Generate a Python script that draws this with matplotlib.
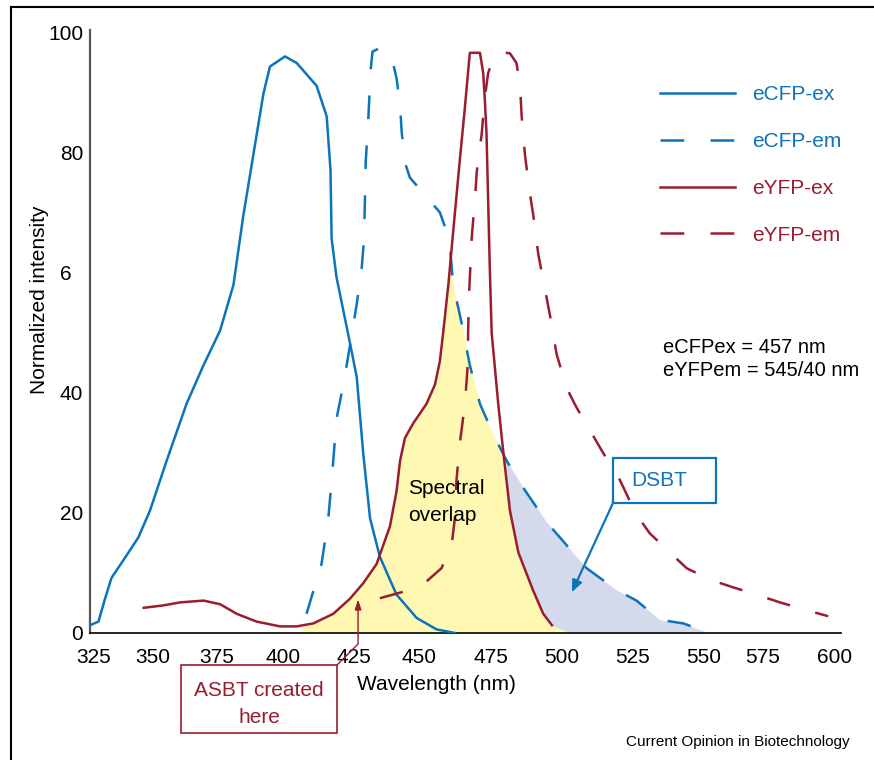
import numpy as np
import matplotlib.pyplot as plt
from matplotlib.patches import Rectangle
from matplotlib.lines import Line2D

plt.rcParams['font.family'] = ['Liberation Sans', 'DejaVu Sans']

# spectra (x = wavelength on the figure's axis, y = normalized intensity)
ecfp_ex_x = [325.0, 328.1, 330.5, 332.9, 337.2, 342.7, 347.0, 353.1, 360.4, 366.6, 372.7, 377.6,
             381.2, 384.9, 388.6, 391.0, 396.5, 400.8, 408.1, 411.8, 413.2, 413.6, 415.4, 420.3,
             422.8, 425.2, 427.7, 431.3, 437.4, 444.8, 452.1, 458.8]
ecfp_ex_y = [1.3, 1.9, 5.7, 9.2, 12.1, 15.9, 20.4, 28.7, 38.2, 44.6, 50.4, 58.0,
             69.5, 79.7, 89.9, 94.4, 96.1, 95.0, 91.2, 86.1, 77.1, 65.7, 59.3, 48.4,
             42.7, 29.9, 19.1, 12.7, 6.4, 2.5, 0.6, 0.0]

ecfp_em_x = [404.4, 406.9, 409.9, 412.4, 414.2, 415.4, 417.9, 420.3, 422.8, 424.6, 425.5, 425.8,
             426.1, 427.1, 427.9, 428.6, 431.3, 435.6, 437.4, 438.7, 439.3, 440.5, 442.3, 448.4,
             453.3, 455.8, 457.0, 458.2, 461.3, 464.3, 468.0, 472.9, 477.8, 483.9, 492.4, 501.0,
             507.1, 518.0, 525.4, 534.0, 542.6, 552.0]
ecfp_em_y = [3.2, 7.0, 11.5, 19.1, 28.7, 35.7, 41.4, 47.8, 54.8, 60.6, 65.7, 72.0,
             78.4, 86.1, 93.7, 96.9, 97.5, 96.0, 92.5, 88.0, 83.5, 78.4, 75.9, 72.7,
             70.1, 66.9, 64.4, 58.0, 51.6, 44.6, 38.2, 33.1, 28.7, 24.2, 18.5, 14.0,
             10.8, 7.2, 5.4, 2.2, 1.6, 0.0]

eyfp_ex_x = [344.7, 351.9, 358.0, 366.6, 372.7, 378.8, 386.1, 394.7, 400.8, 406.9, 414.2, 420.3,
             425.2, 430.1, 435.0, 437.4, 438.7, 440.5, 443.6, 448.4, 451.5, 453.3, 454.5, 456.4,
             457.9, 460.4, 462.4, 463.7, 464.3, 468.0, 469.2, 469.8, 470.4, 471.0, 471.6, 472.3,
             474.7, 476.6, 479.0, 482.1, 487.4, 491.2, 494.4]
eyfp_ex_y = [4.2, 4.6, 5.1, 5.4, 4.8, 3.2, 1.9, 1.1, 1.1, 1.6, 3.2, 5.7,
             8.3, 11.5, 17.8, 23.6, 28.7, 32.5, 35.0, 38.2, 41.4, 45.3, 50.0, 58.0,
             65.5, 77.8, 87.2, 93.8, 96.7, 96.7, 93.3, 88.8, 83.3, 72.2, 61.0, 50.0,
             38.2, 30.0, 20.4, 13.4, 7.2, 3.2, 1.3]

eyfp_em_x = [431.3, 439.3, 448.4, 453.9, 457.6, 458.8, 459.4, 460.7, 462.5, 463.5, 463.7, 464.1,
             465.0, 466.2, 466.8, 467.4, 468.6, 469.8, 471.0, 473.0, 475.3, 479.0, 481.4, 482.7,
             483.3, 484.5, 486.3, 487.6, 489.4, 491.8, 493.7, 496.1, 499.8, 503.4, 508.3, 513.2,
             519.3, 525.4, 530.3, 537.7, 543.8, 552.3, 560.9, 569.4, 578.0, 587.8, 595.7]
eyfp_em_y = [5.8, 6.8, 8.6, 10.8, 14.6, 19.1, 25.5, 31.9, 38.2, 44.6, 51.0, 57.4,
             66.0, 72.5, 76.7, 79.0, 83.0, 89.3, 93.3, 96.0, 96.9, 96.6, 95.0, 91.2,
             86.1, 79.7, 73.3, 69.5, 63.1, 57.4, 52.9, 46.5, 40.8, 37.6, 33.8, 30.0,
             25.5, 19.7, 16.6, 13.4, 10.8, 8.9, 7.6, 6.4, 5.1, 3.8, 2.8]

# tick labels sit where the original figure put them (not evenly spaced)
xtick_pos = [326.5, 348.0, 371.6, 395.7, 421.8, 445.6, 471.9, 498.0, 524.1, 550.2, 571.7, 598.2]
xtick_lab = ['325', '350', '375', '400', '425', '450', '475', '500', '525', '550', '575', '600']
ytick_pos = [0, 20, 40, 60, 80, 100]
ytick_lab = ['0', '20', '40', '6\u2007', '80', '100']

blue = '#0B74BB'
red = '#9A1D2F'
yellow = '#FFF8B3'
lavender = '#D4DAEC'

fig = plt.figure(figsize=(8.74, 7.6), dpi=100)
ax = fig.add_axes([90/874, 127/760, 751/874, 603/760])

# shaded regions
grid = np.union1d(ecfp_em_x, eyfp_ex_x)
grid = grid[grid >= 400]
em = np.interp(grid, ecfp_em_x, ecfp_em_y, left=0, right=0)
ex = np.interp(grid, eyfp_ex_x, eyfp_ex_y, left=0, right=0)
ax.fill_between(grid, 0, np.minimum(em, ex), color=yellow, lw=0, zorder=1)
ax.fill_between(grid, ex, em, where=(em > ex) & (grid > 465), interpolate=True,
                color=lavender, lw=0, zorder=1)

dash = (9.5, 10.5)
ax.plot(ecfp_ex_x, ecfp_ex_y, color=blue, lw=1.8, label='eCFP-ex', zorder=3,
        solid_joinstyle='round')
ax.plot(ecfp_em_x, ecfp_em_y, color=blue, lw=1.8, dashes=dash, label='eCFP-em', zorder=3)
ax.plot(eyfp_ex_x, eyfp_ex_y, color=red, lw=1.8, label='eYFP-ex', zorder=3,
        solid_joinstyle='round')
ax.plot(eyfp_em_x, eyfp_em_y, color=red, lw=1.8, dashes=dash, label='eYFP-em', zorder=3)

ax.set_xlim(325, 600.4)
ax.set_ylim(0, 100.5)
ax.set_xticks(xtick_pos)
ax.set_xticklabels(xtick_lab)
ax.set_yticks(ytick_pos)
ax.set_yticklabels(ytick_lab)
ax.tick_params(axis='x', length=0, pad=11, labelsize=15)
ax.tick_params(axis='y', length=0, pad=5, labelsize=15)

for s in ['top', 'right']:
    ax.spines[s].set_visible(False)
ax.spines['left'].set_color('#555555')
ax.spines['left'].set_linewidth(1.6)
ax.spines['bottom'].set_color('black')
ax.spines['bottom'].set_linewidth(1.2)

ax.set_xlabel('Wavelength (nm)', fontsize=15)
ax.xaxis.set_label_coords(0.461, -0.069)
ax.set_ylabel('Normalized intensity', fontsize=15)
ax.yaxis.set_label_coords(-0.055, 0.552)

leg = ax.legend(loc='upper left', bbox_to_anchor=(660/874, 1 - 85/760),
                bbox_transform=fig.transFigure, frameon=False, fontsize=15,
                handlelength=3.6, handletextpad=0.8, labelspacing=1.34,
                borderpad=0, borderaxespad=0)
for t, c in zip(leg.get_texts(), [blue, blue, red, red]):
    t.set_color(c)

ax.text(0.763, 0.474, 'eCFPex = 457 nm', transform=ax.transAxes, fontsize=14.5, va='center')
ax.text(0.763, 0.436, 'eYFPem = 545/40 nm', transform=ax.transAxes, fontsize=14.5, va='center')

ax.text(0.4234, 0.2172, 'Spectral\noverlap', transform=ax.transAxes, fontsize=15,
        va='center', ha='left', linespacing=1.55, zorder=4)

# DSBT callout
ax.add_patch(Rectangle((0.6964, 0.2156), 0.1372, 0.0746, transform=ax.transAxes,
                       fill=False, edgecolor=blue, lw=1.6, zorder=5))
ax.text(0.7581, 0.2537, 'DSBT', transform=ax.transAxes, color=blue, fontsize=15,
        ha='center', va='center', zorder=5)
ax.annotate('', xy=(501.7, 6.8), xycoords='data', xytext=(0.6964, 0.2156),
            textcoords='axes fraction',
            arrowprops=dict(arrowstyle='-|>,head_length=0.7,head_width=0.3', color=blue,
                            lw=1.6, shrinkA=0, shrinkB=0), zorder=5)

# ASBT callout
ax.add_patch(Rectangle((0.1212, -0.1658), 0.2077, 0.1127, transform=ax.transAxes,
                       fill=False, edgecolor=red, lw=1.2, clip_on=False, zorder=5))
ax.text(0.225, -0.1177, 'ASBT created\nhere', transform=ax.transAxes, color=red, fontsize=15,
        ha='center', va='center', linespacing=1.55, clip_on=False)
ax.annotate('', xy=(423.3, 5.6), xycoords='data', xytext=(0.3289, -0.0531),
            textcoords='axes fraction',
            arrowprops=dict(arrowstyle='-|>,head_length=0.6,head_width=0.2', color=red,
                            lw=1.0, shrinkA=0, shrinkB=0,
                            connectionstyle='angle,angleA=45,angleB=90,rad=0'),
            annotation_clip=False, zorder=5)

# frame of the original panel
fig.add_artist(Line2D([11/874, 11/874], [0, 1 - 7/760], transform=fig.transFigure,
                      color='black', lw=1.5))
fig.add_artist(Line2D([11/874, 1], [1 - 7/760, 1 - 7/760], transform=fig.transFigure,
                      color='black', lw=1.5))

fig.text(850/874, 1 - 742/760, 'Current Opinion in Biotechnology', fontsize=11,
         ha='right', va='center')

fig.savefig('out.png', dpi=100)
